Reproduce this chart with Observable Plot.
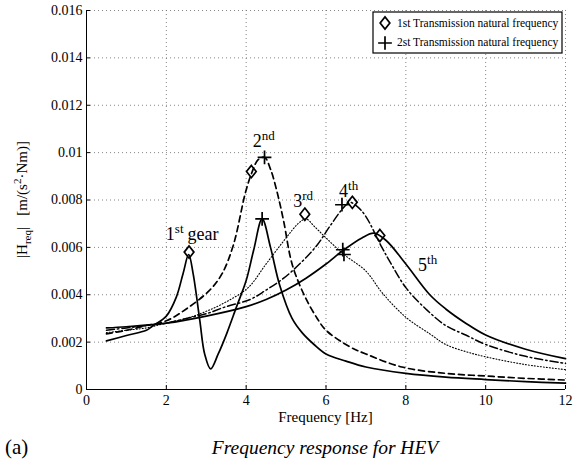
<!DOCTYPE html>
<html><head><meta charset="utf-8">
<script src="https://cdn.jsdelivr.net/npm/d3@7"></script>
<script src="https://cdn.jsdelivr.net/npm/@observablehq/plot@0.6"></script>
<style>
body{margin:0;background:#fff;}
#wrap{position:relative;width:573px;height:462px;font-family:"Liberation Serif","Times New Roman",Times,serif;overflow:hidden;}
#capA{position:absolute;left:5px;top:437px;font-size:21px;line-height:21px;}
#capT{position:absolute;left:0;width:650px;text-align:center;top:437px;font-size:19.5px;line-height:21px;font-style:italic;}
svg text{font-family:"Liberation Serif","Times New Roman",Times,serif;}
</style></head>
<body><div id="wrap"><div id="chart"></div><div id="capA">(a)</div><div id="capT">Frequency response for HEV</div></div>
<script>
// ---- data ----
const gear1Freq = [0.5,1.0,1.5,1.67,2.0,2.25,2.42,2.56,2.67,2.84,2.96,3.11,3.3,3.51,3.76,4.0,4.19,4.4,4.61,4.84,5.15,5.4,5.7,6.0,6.5,7.0,8.0,9.0,10.0,11.0,12.0];
const gear1Amp  = [0.00205,0.00228,0.0025,0.0027,0.0031,0.0039,0.0049,0.0057,0.0049,0.0029,0.0015,0.00087,0.0015,0.00235,0.0035,0.0046,0.0059,0.0072,0.0060,0.0044,0.0030,0.0024,0.0019,0.0015,0.0012,0.00095,0.00068,0.00052,0.00042,0.00033,0.00027];
const gear2Freq = [0.5,1.0,1.5,2.0,2.5,3.09,3.4,3.68,3.98,4.13,4.3,4.46,4.61,4.78,4.94,5.15,5.45,5.78,6.0,6.6,7.0,7.9,9.0,10.0,11.0,12.0];
const gear2Amp  = [0.00235,0.0025,0.0027,0.0029,0.0034,0.0042,0.0049,0.0061,0.0083,0.0091,0.0097,0.0098,0.0093,0.0083,0.0071,0.0053,0.0040,0.0030,0.0025,0.0018,0.0015,0.00095,0.00068,0.00057,0.00047,0.0004];
const gear3Freq = [0.5,1.0,1.5,2.0,2.5,3.0,3.5,4.05,4.5,5.0,5.3,5.5,5.7,6.0,6.45,7.0,7.4,8.0,8.6,9.0,9.5,10.0,11.0,12.0];
const gear3Amp  = [0.0024,0.0025,0.0026,0.0028,0.0030,0.0033,0.0037,0.0043,0.0053,0.0064,0.0070,0.0072,0.0069,0.0064,0.0057,0.0050,0.0041,0.00305,0.00235,0.0019,0.0016,0.00138,0.00105,0.00084];
const gear4Freq = [0.5,1.0,1.5,2.0,2.5,3.0,3.5,4.1,4.5,4.94,5.4,5.78,6.1,6.45,6.6,6.8,7.0,7.4,7.6,8.0,8.5,9.0,9.5,10.0,11.0,12.0];
const gear4Amp  = [0.0025,0.0026,0.0027,0.0028,0.0030,0.0032,0.0035,0.0038,0.0042,0.0047,0.0054,0.0061,0.0069,0.0077,0.0079,0.0077,0.0073,0.0060,0.0054,0.0043,0.0034,0.0027,0.0023,0.0019,0.0014,0.0011];
const gear5Freq = [0.5,1.0,2.0,3.0,4.0,4.5,5.0,5.5,6.0,6.45,6.9,7.2,7.5,8.0,8.6,9.0,9.5,10.0,11.0,12.0];
const gear5Amp  = [0.0026,0.00265,0.0028,0.0031,0.0035,0.0038,0.0042,0.0047,0.0053,0.0059,0.0064,0.0066,0.0063,0.0053,0.0040,0.0034,0.0028,0.0023,0.0017,0.0013];

const firstNatFreq = [2.57, 4.13, 5.47, 6.66, 7.35];
const firstNatAmp  = [0.0058, 0.0092, 0.0074, 0.0079, 0.0065];
const secondNatFreq = [4.40, 4.46, 6.45, 6.40, 6.42];
const secondNatAmp  = [0.0072, 0.0098, 0.0057, 0.0078, 0.0059];

const gearLabelBase = ["1","2","3","4","5"];
const gearLabelSup  = ["st","nd","rd","th","th"];
const gearLabelTail = ["gear","","","",""];
const gearLabelFreq = [2.0, 4.18, 5.19, 6.34, 8.32];
const gearLabelAmp  = [0.0063, 0.0102, 0.00768, 0.0081, 0.0050];

const xTicks = [0,2,4,6,8,10,12];
const yTicks = [0,0.002,0.004,0.006,0.008,0.01,0.012,0.014,0.016];
const legendLabels = ["1st Transmission natural frequency","2st Transmission natural frequency"];

// ---- build ----
const series = [
  {f: gear1Freq, a: gear1Amp, dash: null, w: 1.7},
  {f: gear2Freq, a: gear2Amp, dash: "6,4", w: 1.7},
  {f: gear3Freq, a: gear3Amp, dash: "1,2", w: 1.1},
  {f: gear4Freq, a: gear4Amp, dash: "8,3,1.5,3", w: 1.5},
  {f: gear5Freq, a: gear5Amp, dash: null, w: 1.7}
];
const diamond = {draw(ctx, size){const r = Math.sqrt(size/Math.PI); ctx.moveTo(0,-1.2*r); ctx.lineTo(0.95*r,0); ctx.lineTo(0,1.2*r); ctx.lineTo(-0.95*r,0); ctx.closePath();}};
const firstPts = firstNatFreq.map((f,i)=>({f, a:firstNatAmp[i]}));
const secondPts = secondNatFreq.map((f,i)=>({f, a:secondNatAmp[i]}));

const lineMarks = series.map(s => Plot.line(s.f.map((f,i)=>({f, a:s.a[i]})), {x:"f", y:"a", stroke:"black", strokeWidth:s.w, strokeDasharray:s.dash, curve:"catmull-rom"}));
const gridStyle = {stroke:"#666", strokeOpacity:1, strokeWidth:0.8, strokeDasharray:"1,3"};
const F = "Liberation Serif, Times New Roman, Times, serif";

const plot = Plot.plot({
  width: 573, height: 430,
  marginLeft: 86, marginRight: 8, marginTop: 10, marginBottom: 41,
  style: {fontFamily: F, fontSize: "14px", background: "white", color: "black", overflow: "visible"},
  x: {domain: [0, 12]},
  y: {domain: [0, 0.016]},
  marks: [
    Plot.gridX(xTicks, gridStyle),
    Plot.gridY(yTicks, gridStyle),
    Plot.ruleX([0], {stroke:"black", strokeWidth:1}),
    Plot.ruleY([0], {stroke:"black", strokeWidth:1}),
    Plot.axisX(xTicks, {anchor:"bottom", tickSize:-4, tickPadding:10, tickFormat: d => String(d), label:null, fontSize:14}),
    Plot.axisY(yTicks, {anchor:"left", tickSize:-4, tickPadding:8, tickFormat: d => String(+d.toFixed(3)), label:null, fontSize:14}),
    ...lineMarks,
    Plot.dot(firstPts, {x:"f", y:"a", symbol: diamond, r:5.1, stroke:"black", strokeWidth:1.7, fill:"none"}),
    Plot.dot(secondPts, {x:"f", y:"a", symbol:"plus", r:4.5, stroke:"black", strokeWidth:1.7, fill:"none"})
  ]
});
document.getElementById("chart").appendChild(plot);

const svg = d3.select(plot);
const sx = plot.scale("x"), sy = plot.scale("y");

// gear labels
gearLabelBase.forEach((b,i)=>{
  const t = svg.append("text").attr("x", sx.apply(gearLabelFreq[i])).attr("y", sy.apply(gearLabelAmp[i]))
    .attr("text-anchor","start").attr("font-family", F).attr("font-size", 18).attr("fill","black");
  t.append("tspan").text(b);
  t.append("tspan").attr("dy", -7).attr("font-size", 13).text(gearLabelSup[i]);
  if (gearLabelTail[i]) t.append("tspan").attr("dy", 7).attr("dx", 4).text(gearLabelTail[i]);
});

// y label
const yl = svg.append("text").attr("transform", `translate(27,${(10+389)/2}) rotate(-90)`).attr("text-anchor","middle")
  .attr("font-family", F).attr("font-size", 15).attr("fill","black");
yl.append("tspan").text("|H");
yl.append("tspan").attr("dy", 4).attr("font-size", 11).text("req");
yl.append("tspan").attr("dy", -4).text("|\u00a0\u00a0\u00a0[m/(s");
yl.append("tspan").attr("dy", -6).attr("font-size", 11).text("2");
yl.append("tspan").attr("dy", 6).text("\u00b7Nm)]");

// x label
svg.append("text").attr("x", (86+565)/2).attr("y", 422).attr("text-anchor","middle")
  .attr("font-family", F).attr("font-size", 15).attr("fill","black").text("Frequency [Hz]");

// legend
const lg = svg.append("g");
const lx = 373, ly = 12, lw = 189, lh = 41;
lg.append("rect").attr("x", lx).attr("y", ly).attr("width", lw).attr("height", lh).attr("fill","white").attr("stroke","black").attr("stroke-width",1.2);
const d0 = d3.path(); diamond.draw(d0, Math.PI*5.1*5.1);
lg.append("path").attr("d", d0.toString()).attr("transform", `translate(${lx+12},${ly+11})`).attr("fill","none").attr("stroke","black").attr("stroke-width",1.7);
lg.append("path").attr("d", d3.symbol(d3.symbolPlus, Math.PI*4.5*4.5)()).attr("transform", `translate(${lx+12},${ly+31})`).attr("fill","none").attr("stroke","black").attr("stroke-width",1.7);
legendLabels.forEach((s,i)=>{
  lg.append("text").attr("x", lx+24).attr("y", ly+15+i*19).attr("text-anchor","start").attr("font-family",F).attr("font-size",11.5).attr("fill","black").text(s);
});
</script></body></html>
